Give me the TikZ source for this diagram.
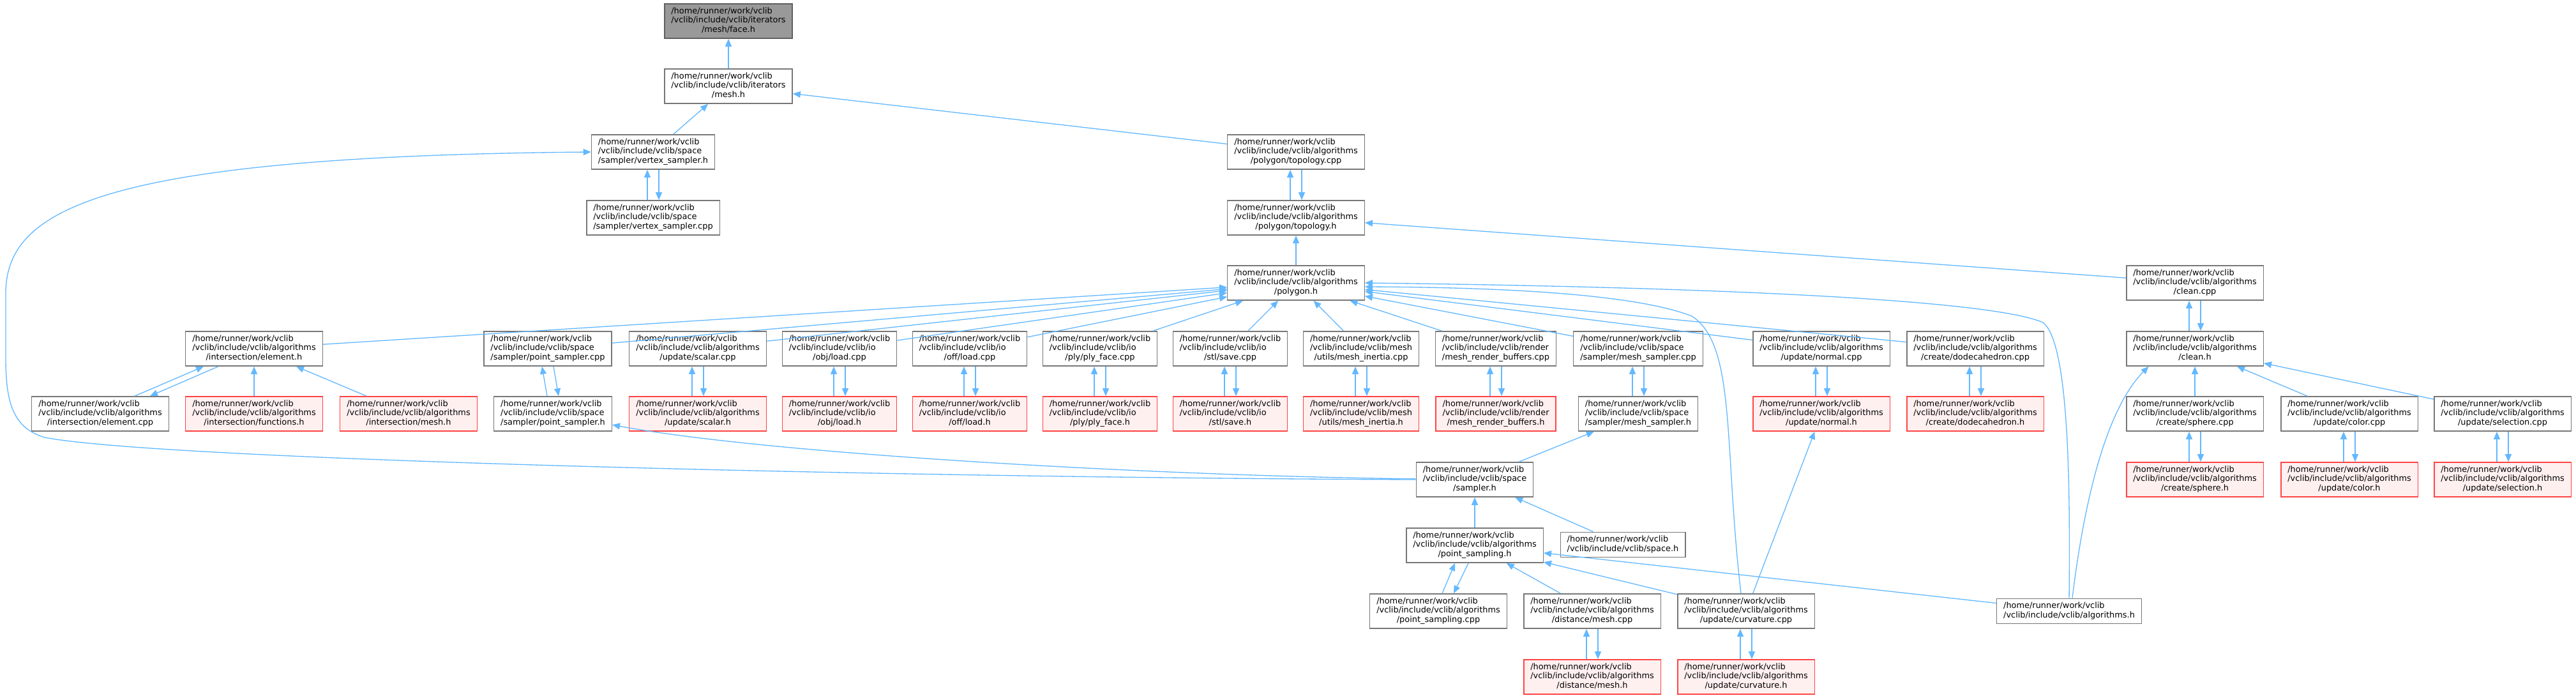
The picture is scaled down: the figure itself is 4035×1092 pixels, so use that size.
\documentclass[tikz,border=0pt]{standalone}
\usepackage{fontspec}
\usepackage{tikz}
\usetikzlibrary{arrows.meta}

\newfontfamily\dxfont{DejaVu Sans}
\definecolor{edgeblue}{HTML}{63B8FF}
\definecolor{boxgray}{HTML}{777777}
\definecolor{facegray}{HTML}{999999}
\definecolor{boxred}{HTML}{FF4444}
\definecolor{boxpink}{HTML}{FFF0F0}

\newcommand{\incfile}[2]{\begin{tabular}{@{}l@{}}/home/runner/work/vclib\\#1\\\multicolumn{1}{@{}c@{}}{#2}\end{tabular}}

\tikzset{
  file/.style={draw=boxgray, fill=white, line width=0.8pt, inner xsep=0.21cm, inner ysep=0.1cm,
    font={\dxfont\fontsize{7.35}{8.4}\selectfont}},
  redfile/.style={file, draw=boxred, fill=boxpink},
  edge/.style={draw=edgeblue, line width=0.75pt, -{Triangle[length=0.24cm,width=0.2cm]}}
}

\begin{document}
\begin{tikzpicture}[x=0.02cm,y=-0.02cm]
\useasboundingbox (0,0) rectangle (4035,1092);
%%%%%%%%% top of the graph
\node[file,fill=facegray,draw=boxgray!80!black] (face) at (1141,33) {\incfile{/vclib/include/vclib/iterators}{/mesh/face.h}};
\node[file] (meshh) at (1141,135) {\incfile{/vclib/include/vclib/iterators}{/mesh.h}};
\node[file] (vsamph) at (1023,238) {\incfile{/vclib/include/vclib/space}{/sampler/vertex\_sampler.h}};
\node[file] (vsampcpp) at (1023,341) {\incfile{/vclib/include/vclib/space}{/sampler/vertex\_sampler.cpp}};
\node[file] (topocpp) at (2030,238) {\incfile{/vclib/include/vclib/algorithms}{/polygon/topology.cpp}};
\node[file] (topoh) at (2030,341) {\incfile{/vclib/include/vclib/algorithms}{/polygon/topology.h}};
\node[file] (polyh) at (2030,443) {\incfile{/vclib/include/vclib/algorithms}{/polygon.h}};
\node[file] (cleancpp) at (3438,443) {\incfile{/vclib/include/vclib/algorithms}{/clean.cpp}};

%%%%%%%%% includers of polygon.h
\node[file] (elemh) at (398,546) {\incfile{/vclib/include/vclib/algorithms}{/intersection/element.h}};
\node[file] (psampcpp) at (858,546) {\incfile{/vclib/include/vclib/space}{/sampler/point\_sampler.cpp}};
\node[file] (scalarcpp) at (1093,546) {\incfile{/vclib/include/vclib/algorithms}{/update/scalar.cpp}};
\node[file] (objcpp) at (1315,546) {\incfile{/vclib/include/vclib/io}{/obj/load.cpp}};
\node[file] (offcpp) at (1519,546) {\incfile{/vclib/include/vclib/io}{/off/load.cpp}};
\node[file] (plycpp) at (1723,546) {\incfile{/vclib/include/vclib/io}{/ply/ply\_face.cpp}};
\node[file] (stlcpp) at (1927,546) {\incfile{/vclib/include/vclib/io}{/stl/save.cpp}};
\node[file] (inertiacpp) at (2132,546) {\incfile{/vclib/include/vclib/mesh}{/utils/mesh\_inertia.cpp}};
\node[file] (rbufcpp) at (2343,546) {\incfile{/vclib/include/vclib/render}{/mesh\_render\_buffers.cpp}};
\node[file] (msampcpp) at (2566,546) {\incfile{/vclib/include/vclib/space}{/sampler/mesh\_sampler.cpp}};
\node[file] (normalcpp) at (2853,546) {\incfile{/vclib/include/vclib/algorithms}{/update/normal.cpp}};
\node[file] (dodecacpp) at (3094,546) {\incfile{/vclib/include/vclib/algorithms}{/create/dodecahedron.cpp}};
\node[file] (cleanh) at (3438,546) {\incfile{/vclib/include/vclib/algorithms}{/clean.h}};

%%%%%%%%% next row
\node[file] (elemcpp) at (157,648) {\incfile{/vclib/include/vclib/algorithms}{/intersection/element.cpp}};
\node[redfile] (funch) at (398,648) {\incfile{/vclib/include/vclib/algorithms}{/intersection/functions.h}};
\node[redfile] (imeshh) at (640,648) {\incfile{/vclib/include/vclib/algorithms}{/intersection/mesh.h}};
\node[file] (psamph) at (866,648) {\incfile{/vclib/include/vclib/space}{/sampler/point\_sampler.h}};
\node[redfile] (scalarh) at (1093,648) {\incfile{/vclib/include/vclib/algorithms}{/update/scalar.h}};
\node[redfile] (objh) at (1315,648) {\incfile{/vclib/include/vclib/io}{/obj/load.h}};
\node[redfile] (offh) at (1519,648) {\incfile{/vclib/include/vclib/io}{/off/load.h}};
\node[redfile] (plyh) at (1723,648) {\incfile{/vclib/include/vclib/io}{/ply/ply\_face.h}};
\node[redfile] (stlh) at (1927,648) {\incfile{/vclib/include/vclib/io}{/stl/save.h}};
\node[redfile] (inertiah) at (2132,648) {\incfile{/vclib/include/vclib/mesh}{/utils/mesh\_inertia.h}};
\node[redfile] (rbufh) at (2343,648) {\incfile{/vclib/include/vclib/render}{/mesh\_render\_buffers.h}};
\node[file] (msamph) at (2566,648) {\incfile{/vclib/include/vclib/space}{/sampler/mesh\_sampler.h}};
\node[redfile] (normalh) at (2853,648) {\incfile{/vclib/include/vclib/algorithms}{/update/normal.h}};
\node[redfile] (dodecah) at (3094,648) {\incfile{/vclib/include/vclib/algorithms}{/create/dodecahedron.h}};
\node[file] (spherecpp) at (3438,648) {\incfile{/vclib/include/vclib/algorithms}{/create/sphere.cpp}};
\node[file] (colorcpp) at (3680,648) {\incfile{/vclib/include/vclib/algorithms}{/update/color.cpp}};
\node[file] (selcpp) at (3920,648) {\incfile{/vclib/include/vclib/algorithms}{/update/selection.cpp}};

%%%%%%%%% bottom part
\node[file] (samplerh) at (2310,751) {\incfile{/vclib/include/vclib/space}{/sampler.h}};
\node[redfile] (sphereh) at (3438,751) {\incfile{/vclib/include/vclib/algorithms}{/create/sphere.h}};
\node[redfile] (colorh) at (3680,751) {\incfile{/vclib/include/vclib/algorithms}{/update/color.h}};
\node[redfile] (selh) at (3920,751) {\incfile{/vclib/include/vclib/algorithms}{/update/selection.h}};
\node[file] (psh) at (2310,854) {\incfile{/vclib/include/vclib/algorithms}{/point\_sampling.h}};
\node[file] (spaceh) at (2542,853) {\begin{tabular}{@{}l@{}}/home/runner/work/vclib\\/vclib/include/vclib/space.h\end{tabular}};
\node[file] (pscpp) at (2253,957) {\incfile{/vclib/include/vclib/algorithms}{/point\_sampling.cpp}};
\node[file] (distcpp) at (2494,957) {\incfile{/vclib/include/vclib/algorithms}{/distance/mesh.cpp}};
\node[file] (curvcpp) at (2735,957) {\incfile{/vclib/include/vclib/algorithms}{/update/curvature.cpp}};
\node[file] (algoh) at (3241,957) {\begin{tabular}{@{}l@{}}/home/runner/work/vclib\\/vclib/include/vclib/algorithms.h\end{tabular}};
\node[redfile] (disth) at (2494,1060) {\incfile{/vclib/include/vclib/algorithms}{/distance/mesh.h}};
\node[redfile] (curvh) at (2735,1060) {\incfile{/vclib/include/vclib/algorithms}{/update/curvature.h}};

%%%%%%%%% edges, tip at the included file
\draw[edge] (meshh) -- (face);
\draw[edge] (vsamph) -- (meshh);
\draw[edge] (topocpp) -- (meshh);
\draw[edge] ([xshift=-0.18cm]vsampcpp.north) -- ([xshift=-0.18cm]vsamph.south);
\draw[edge] ([xshift=0.18cm]vsamph.south) -- ([xshift=0.18cm]vsampcpp.north);
\draw[edge] (samplerh.west) .. controls (1400,748) and (250,720) .. (70,685)
  .. controls (20,670) and (9,630) .. (9,560) -- (9,460)
  .. controls (9,330) and (150,245) .. (vsamph.west);

\draw[edge] ([xshift=-0.18cm]topoh.north) -- ([xshift=-0.18cm]topocpp.south);
\draw[edge] ([xshift=0.18cm]topocpp.south) -- ([xshift=0.18cm]topoh.north);
\draw[edge] (polyh) -- (topoh);
\draw[edge] (cleancpp) -- (topoh);
\draw[edge] ([xshift=-0.18cm]cleanh.north) -- ([xshift=-0.18cm]cleancpp.south);
\draw[edge] ([xshift=0.18cm]cleancpp.south) -- ([xshift=0.18cm]cleanh.north);

%%%%%%%%% into polygon.h
\draw[edge] (elemh) -- (polyh);
\draw[edge] (psampcpp) -- (polyh);
\draw[edge] (scalarcpp) -- (polyh);
\draw[edge] (objcpp) -- (polyh);
\draw[edge] (offcpp) -- (polyh);
\draw[edge] (plycpp) -- (polyh);
\draw[edge] (stlcpp) -- (polyh);
\draw[edge] (inertiacpp) -- (polyh);
\draw[edge] (rbufcpp) -- (polyh);
\draw[edge] (msampcpp) -- (polyh);
\draw[edge] (normalcpp) -- (polyh);
\draw[edge] (dodecacpp) -- (polyh);
\draw[edge] ([xshift=-0.16cm]curvcpp.north) .. controls (2700,700) and (2720,540) .. (2650,495)
  .. controls (2560,460) and (2350,450) .. ([yshift=-0.12cm]polyh.east);
\draw[edge] (algoh.north) .. controls (3243,750) and (3240,535) .. (3200,505)
  .. controls (3120,470) and (2700,450) .. (polyh.east);

%%%%%%%%% element.h
\draw[edge] ([xshift=1.08cm]elemcpp.north) -- ([xshift=-1.58cm]elemh.south);
\draw[edge] ([xshift=-1.12cm]elemh.south) -- ([xshift=1.56cm]elemcpp.north);
\draw[edge] (funch) -- (elemh);
\draw[edge] (imeshh) -- (elemh);

%%%%%%%%% .cpp / .h pairs
\draw[edge] ([xshift=-0.18cm]psamph.north) -- ([xshift=-0.18cm]psampcpp.south);
\draw[edge] ([xshift=0.18cm]psampcpp.south) -- ([xshift=0.18cm]psamph.north);
\draw[edge] ([xshift=-0.18cm]scalarh.north) -- ([xshift=-0.18cm]scalarcpp.south);
\draw[edge] ([xshift=0.18cm]scalarcpp.south) -- ([xshift=0.18cm]scalarh.north);
\draw[edge] ([xshift=-0.18cm]objh.north) -- ([xshift=-0.18cm]objcpp.south);
\draw[edge] ([xshift=0.18cm]objcpp.south) -- ([xshift=0.18cm]objh.north);
\draw[edge] ([xshift=-0.18cm]offh.north) -- ([xshift=-0.18cm]offcpp.south);
\draw[edge] ([xshift=0.18cm]offcpp.south) -- ([xshift=0.18cm]offh.north);
\draw[edge] ([xshift=-0.18cm]plyh.north) -- ([xshift=-0.18cm]plycpp.south);
\draw[edge] ([xshift=0.18cm]plycpp.south) -- ([xshift=0.18cm]plyh.north);
\draw[edge] ([xshift=-0.18cm]stlh.north) -- ([xshift=-0.18cm]stlcpp.south);
\draw[edge] ([xshift=0.18cm]stlcpp.south) -- ([xshift=0.18cm]stlh.north);
\draw[edge] ([xshift=-0.18cm]inertiah.north) -- ([xshift=-0.18cm]inertiacpp.south);
\draw[edge] ([xshift=0.18cm]inertiacpp.south) -- ([xshift=0.18cm]inertiah.north);
\draw[edge] ([xshift=-0.18cm]rbufh.north) -- ([xshift=-0.18cm]rbufcpp.south);
\draw[edge] ([xshift=0.18cm]rbufcpp.south) -- ([xshift=0.18cm]rbufh.north);
\draw[edge] ([xshift=-0.18cm]msamph.north) -- ([xshift=-0.18cm]msampcpp.south);
\draw[edge] ([xshift=0.18cm]msampcpp.south) -- ([xshift=0.18cm]msamph.north);
\draw[edge] ([xshift=-0.18cm]normalh.north) -- ([xshift=-0.18cm]normalcpp.south);
\draw[edge] ([xshift=0.18cm]normalcpp.south) -- ([xshift=0.18cm]normalh.north);
\draw[edge] ([xshift=-0.18cm]dodecah.north) -- ([xshift=-0.18cm]dodecacpp.south);
\draw[edge] ([xshift=0.18cm]dodecacpp.south) -- ([xshift=0.18cm]dodecah.north);

%%%%%%%%% clean.h
\draw[edge] (spherecpp) -- (cleanh);
\draw[edge] (colorcpp) -- (cleanh);
\draw[edge] (selcpp) -- (cleanh);
\draw[edge] ([xshift=0.1cm]algoh.north) .. controls (3265,780) and (3300,640) .. ([xshift=-1.45cm]cleanh.south);
\draw[edge] ([xshift=-0.18cm]sphereh.north) -- ([xshift=-0.18cm]spherecpp.south);
\draw[edge] ([xshift=0.18cm]spherecpp.south) -- ([xshift=0.18cm]sphereh.north);
\draw[edge] ([xshift=-0.18cm]colorh.north) -- ([xshift=-0.18cm]colorcpp.south);
\draw[edge] ([xshift=0.18cm]colorcpp.south) -- ([xshift=0.18cm]colorh.north);
\draw[edge] ([xshift=-0.18cm]selh.north) -- ([xshift=-0.18cm]selcpp.south);
\draw[edge] ([xshift=0.18cm]selcpp.south) -- ([xshift=0.18cm]selh.north);

%%%%%%%%% sampler.h and point_sampling.h
\draw[edge] (samplerh) -- (msamph);
\draw[edge] (samplerh) .. controls (1800,745) and (1200,710) .. (psamph);
\draw[edge] (psh) -- (samplerh);
\draw[edge] (spaceh) -- (samplerh);
\draw[edge] ([xshift=0.12cm]pscpp.north) -- ([xshift=-0.62cm]psh.south);
\draw[edge] ([xshift=-0.2cm]psh.south) -- ([xshift=0.48cm]pscpp.north);
\draw[edge] (distcpp) -- (psh);
\draw[edge] (curvcpp) -- (psh);
\draw[edge] (algoh) -- (psh);
\draw[edge] ([xshift=-0.18cm]disth.north) -- ([xshift=-0.18cm]distcpp.south);
\draw[edge] ([xshift=0.18cm]distcpp.south) -- ([xshift=0.18cm]disth.north);
\draw[edge] ([xshift=-0.18cm]curvh.north) -- ([xshift=-0.18cm]curvcpp.south);
\draw[edge] ([xshift=0.18cm]curvcpp.south) -- ([xshift=0.18cm]curvh.north);
\draw[edge] (curvcpp) -- (normalh);

\end{tikzpicture}
\end{document}
